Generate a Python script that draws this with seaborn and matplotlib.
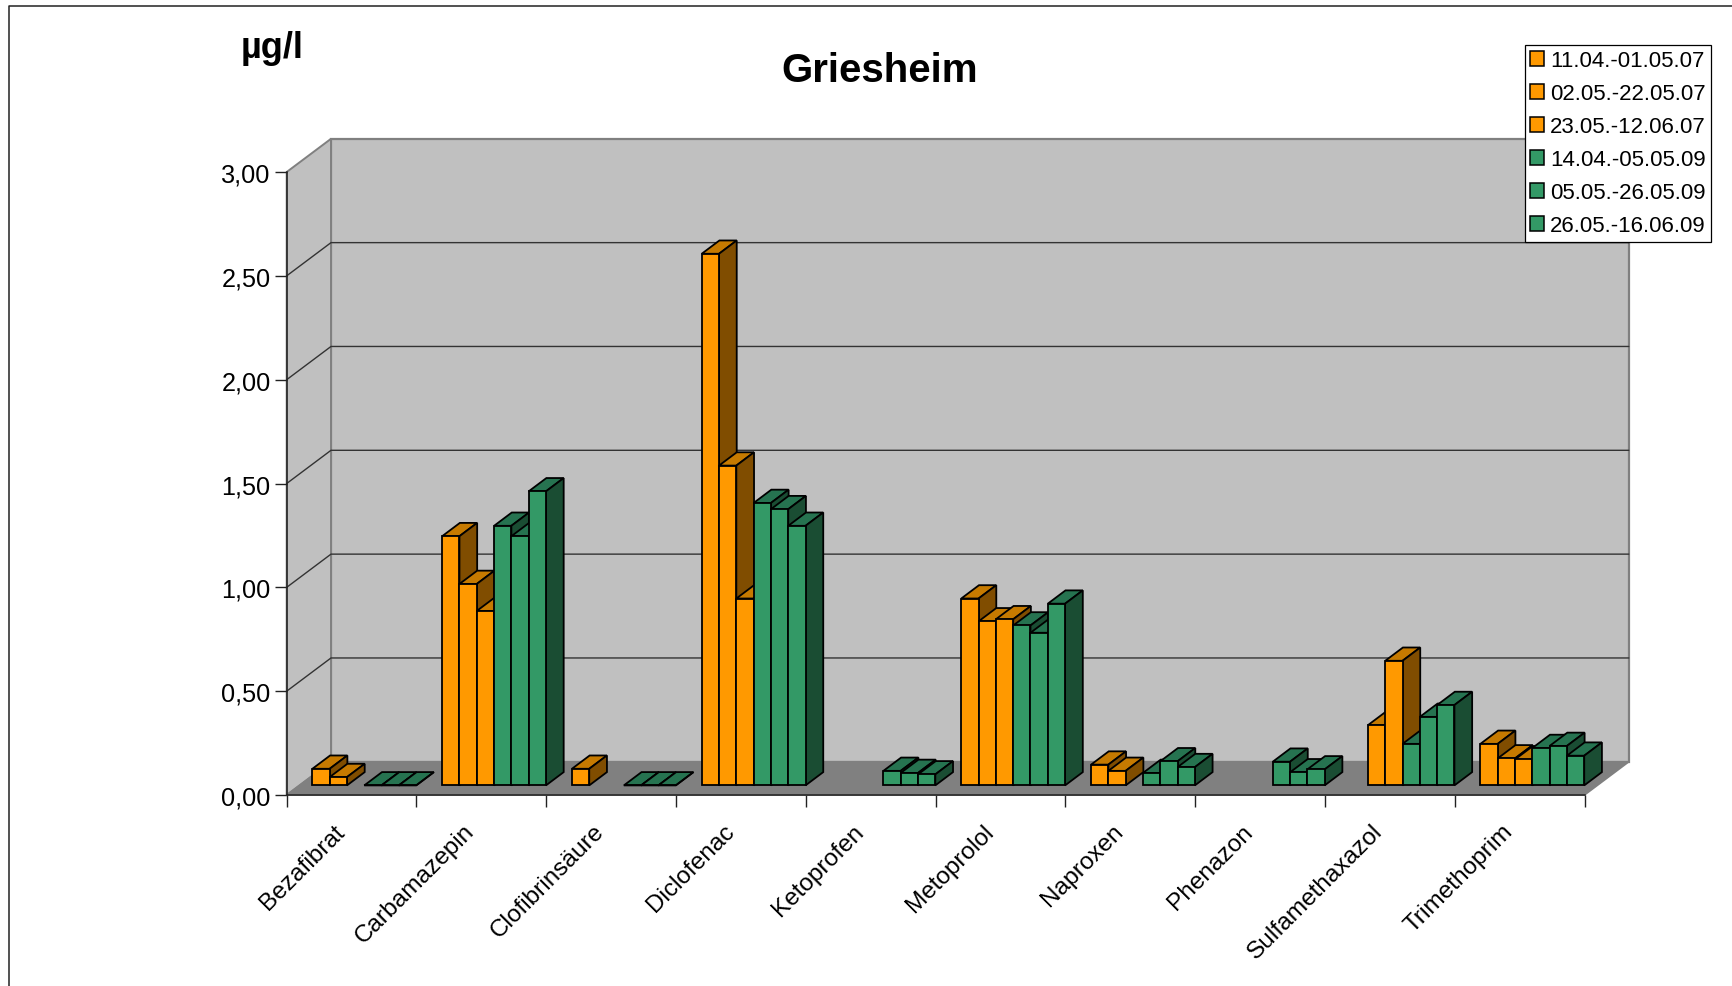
import numpy as np
import pandas as pd
import matplotlib
matplotlib.use("Agg")
import matplotlib.pyplot as plt
import seaborn as sns
from matplotlib.patches import Patch, Polygon, Rectangle
from matplotlib.lines import Line2D
from matplotlib.transforms import Affine2D

nan = float("nan")
categories = ["Bezafibrat", "Carbamazepin", "Clofibrinsäure", "Diclofenac", "Ketoprofen",
              "Metoprolol", "Naproxen", "Phenazon", "Sulfamethaxazol", "Trimethoprim"]
periods = ["11.04.-01.05.07", "02.05.-22.05.07", "23.05.-12.06.07",
           "14.04.-05.05.09", "05.05.-26.05.09", "26.05.-16.06.09"]
s1 = [0.08, 1.20, 0.08, 2.56, nan, 0.90, 0.10, nan, nan, 0.20]
s2 = [0.04, 0.97, nan, 1.54, nan, 0.79, 0.07, nan, 0.29, 0.13]
s3 = [nan, 0.84, nan, 0.90, nan, 0.80, nan, nan, 0.60, 0.125]
s4 = [0.00, 1.25, 0.00, 1.36, 0.07, 0.77, 0.06, 0.114, 0.20, 0.18]
s5 = [0.00, 1.20, 0.00, 1.33, 0.06, 0.735, 0.116, 0.063, 0.33, 0.19]
s6 = [0.00, 1.416, 0.00, 1.25, 0.053, 0.875, 0.088, 0.077, 0.387, 0.143]
series = [s1, s2, s3, s4, s5, s6]
yticks = [0.0, 0.5, 1.0, 1.5, 2.0, 2.5, 3.0]
ytick_labels = ["0,00", "0,50", "1,00", "1,50", "2,00", "2,50", "3,00"]

ORANGE, ORANGE_TOP, ORANGE_SIDE = "#FF9900", "#C67A00", "#804D00"
GREEN, GREEN_TOP, GREEN_SIDE = "#339966", "#267350", "#1A4D33"

df = pd.DataFrame({
    "Substanz": categories * len(periods),
    "Zeitraum": [p for p in periods for _ in categories],
    "Wert": [v for s in series for v in s],
})

sns.set_theme(style="white")
plt.rcParams["font.family"] = ["Liberation Sans", "DejaVu Sans"]
W, H = 1732, 987
fig = plt.figure(figsize=(W / 100, H / 100), dpi=100, facecolor="white")
L, R, T, B = 286.7, 1584.5, 173.0, 796.0
ax = fig.add_axes([L / W, (H - B) / H, (R - L) / W, (B - T) / H])
ax.set_facecolor("none")

palette = dict(zip(periods, [ORANGE] * 3 + [GREEN] * 3))
sns.barplot(data=df, x="Substanz", y="Wert", hue="Zeitraum", order=categories,
            hue_order=periods, palette=palette, saturation=1, width=0.8, gap=0,
            errorbar=None, edgecolor="black", linewidth=1.3, legend=False, ax=ax)
ax.set_xlim(-0.5, 9.5)
ax.set_ylim(0, 3)

# pixel-to-data factors for the oblique depth direction
px_x = 10 / (R - L)
px_y = 3 / (B - T)
wall_dx, wall_dy = 44.3 * px_x, 33.2 * px_y
gap_dx, gap_dy = 12.7 * px_x, 9.6 * px_y
bar_dx, bar_dy = 17.7 * px_x, 13.3 * px_y
WALL, FLOOR, EDGE = "#C0C0C0", "#808080", "#808080"

bars = sorted([p for p in ax.patches
               if isinstance(p, Rectangle) and np.isfinite(p.get_height())],
              key=lambda p: p.get_x())


def add_poly(pts, fc, ec="none", lw=0, z=1.0):
    ax.add_patch(Polygon(pts, closed=True, facecolor=fc, edgecolor=ec, linewidth=lw,
                         zorder=z, clip_on=False, joinstyle="miter"))


x0, x1 = -0.5, 9.5
add_poly([(x0 + wall_dx, wall_dy), (x1 + wall_dx, wall_dy), (x1 + wall_dx, 3 + wall_dy),
          (x0 + wall_dx, 3 + wall_dy)], WALL, EDGE, 1.6, 0.5)
add_poly([(x0, 0), (x0 + wall_dx, wall_dy), (x0 + wall_dx, 3 + wall_dy), (x0, 3)], WALL, EDGE, 1.4, 0.5)
add_poly([(x0, 0), (x1, 0), (x1 + wall_dx, wall_dy), (x0 + wall_dx, wall_dy)], FLOOR, EDGE, 1.2, 0.6)

for y in yticks[1:-1]:
    ax.plot([x0, x0 + wall_dx, x1 + wall_dx], [y, y + wall_dy, y + wall_dy], color="#333333",
            lw=1.0, zorder=0.7, clip_on=False)

# bars: front faces come from seaborn, top and side faces follow them, drawn left to right
shift = Affine2D().translate(gap_dx, gap_dy) + ax.transData
for i, bar in enumerate(bars):
    x, w, h = bar.get_x(), bar.get_width(), bar.get_height()
    orange = bar.get_facecolor()[2] < 0.1
    top_c, side_c = (ORANGE_TOP, ORANGE_SIDE) if orange else (GREEN_TOP, GREEN_SIDE)
    xa, xb = x + gap_dx, x + w + gap_dx
    ya, yb = gap_dy, h + gap_dy
    z = 3 + i * 0.01
    add_poly([(xa, yb), (xb, yb), (xb + bar_dx, yb + bar_dy), (xa + bar_dx, yb + bar_dy)],
             top_c, "black", 1.3, z)
    add_poly([(xb, ya), (xb + bar_dx, ya + bar_dy), (xb + bar_dx, yb + bar_dy), (xb, yb)],
             side_c, "black", 1.3, z + 0.001)
    bar.set_transform(shift)
    bar.set_clip_on(False)
    bar.set_zorder(z + 0.002)

ax.set_yticks(yticks, labels=ytick_labels)
ax.set_xticks(np.arange(-0.5, 10, 1), labels=[])
ax.set_xticks(np.arange(10), labels=categories, minor=True)
ax.tick_params(axis="y", which="major", length=8.6, width=1.0, color="#222222", labelsize=18.2,
               labelcolor="black", pad=3, left=True)
ax.tick_params(axis="x", which="major", length=8.6, width=1.0, color="#222222", bottom=True)
ax.tick_params(axis="x", which="minor", length=0, labelsize=17.6, labelcolor="black", pad=18, bottom=False)
ax.figure.canvas.draw()
for lab in ax.get_xticklabels(minor=True):
    lab.set_rotation(45)
    lab.set_ha("right")
    lab.set_va("top")
    lab.set_rotation_mode("anchor")
    lab.set_transform(lab.get_transform() + Affine2D().translate(-18, 0))

sns.despine(ax=ax, top=True, right=True)
for side in ("left", "bottom"):
    ax.spines[side].set_color("#222222")
    ax.spines[side].set_linewidth(1.1)
    ax.spines[side].set_zorder(2)

ax.set_xlabel("")
ax.set_ylabel("µg/l", rotation=0, fontsize=26, fontweight="bold", ha="center", va="center", color="black")
ax.yaxis.set_label_coords((272 - L) / (R - L), (B - 48) / (B - T))
ax.set_title("Griesheim", fontsize=29, fontweight="bold", color="black", va="center", pad=0,
             x=(880 - L) / (R - L), y=(B - 71) / (B - T))

handles = [Patch(facecolor=palette[p], edgecolor="black", linewidth=1.1, label=p) for p in periods]
leg = ax.legend(handles=handles, loc="upper left", bbox_to_anchor=(1524.6 / W, 1 - 46 / H),
                bbox_transform=fig.transFigure, fontsize=16, frameon=True, fancybox=False,
                framealpha=1, facecolor="white", edgecolor="black", handlelength=0.63,
                handleheight=0.63, handletextpad=0.27, labelspacing=0.54, borderpad=0.24,
                borderaxespad=0)
leg.get_frame().set_linewidth(0.9)
leg.set_zorder(100)
for t in leg.get_texts():
    t.set_color("black")

fig.add_artist(Line2D([8.8 / W, 8.8 / W, 1], [0, 1 - 7 / H, 1 - 7 / H], color="#222222", lw=1.1,
                      transform=fig.transFigure))

fig.savefig("out.png", dpi=100, facecolor="white")
